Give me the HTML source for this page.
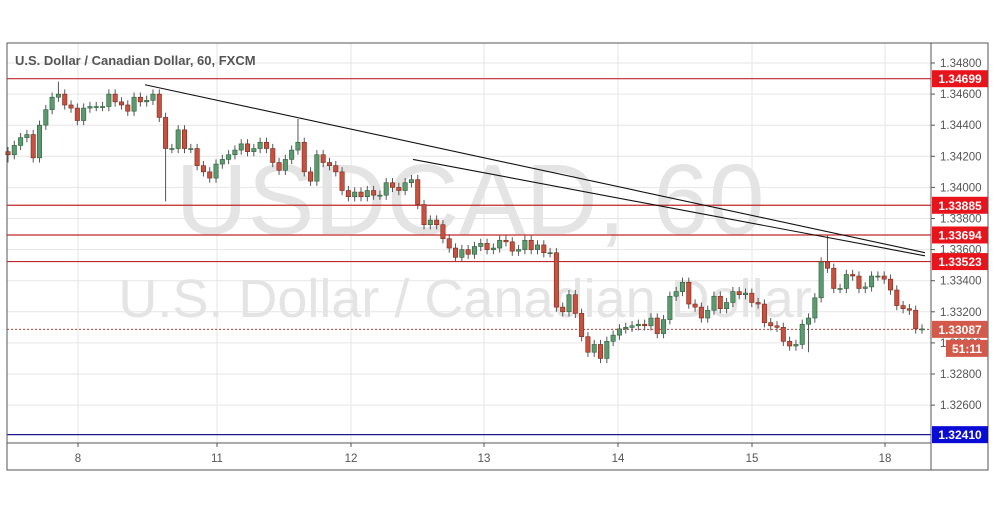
<!DOCTYPE html>
<html><head><meta charset="utf-8"><style>
html,body{margin:0;padding:0;background:#fff;}
svg{display:block;font-family:"Liberation Sans",sans-serif;}
</style></head><body>
<svg id="chart" width="995" height="507"></svg>
<script>
const title = "U.S. Dollar / Canadian Dollar, 60, FXCM";
const priceTicks = [1.348,1.346,1.344,1.342,1.340,1.338,1.336,1.334,1.332,1.330,1.328,1.326];
const dateLabels = ["8","11","12","13","14","15","18"];
const dateX = [78,217,351,484,618,752,885];
const hLevels = [1.34699,1.33885,1.33694,1.33523];
const supportLevel = 1.32410;
const lastPrice = 1.33087;
const countdown = "51:11";
const firstOpen = 1.3423;
const closes = [1.3421,1.3427,1.3432,1.3434,1.3419,1.3440,1.3450,1.3458,1.3460,1.3453,1.3451,1.3443,1.3451,1.3452,1.3452,1.3452,1.3460,1.3455,1.3453,1.3449,1.3458,1.3455,1.3456,1.3460,1.3445,1.3425,1.3425,1.3437,1.3425,1.3425,1.3414,1.3410,1.3406,1.3415,1.3418,1.3421,1.3424,1.3428,1.3423,1.3425,1.3429,1.3425,1.3416,1.3411,1.3418,1.3424,1.3429,1.3410,1.3404,1.3421,1.3416,1.3414,1.3410,1.3398,1.3394,1.3397,1.3394,1.3398,1.3395,1.3395,1.3403,1.3400,1.3398,1.3403,1.3405,1.3389,1.3376,1.3379,1.3376,1.3367,1.3361,1.3355,1.3360,1.3357,1.3362,1.3364,1.3360,1.3361,1.3366,1.3365,1.3359,1.3360,1.3366,1.3360,1.3363,1.3358,1.3358,1.3323,1.3320,1.3331,1.3319,1.3304,1.3294,1.3299,1.3290,1.3301,1.3305,1.3309,1.3310,1.3311,1.3312,1.3311,1.3316,1.3306,1.3315,1.3330,1.3333,1.3339,1.3325,1.3323,1.3316,1.3321,1.3330,1.3322,1.3326,1.3333,1.3331,1.3332,1.3326,1.3325,1.3313,1.3311,1.3310,1.3301,1.3298,1.3299,1.3312,1.3316,1.3329,1.3352,1.3348,1.3335,1.3335,1.3344,1.3343,1.3335,1.3336,1.3343,1.3343,1.3341,1.3334,1.3324,1.3322,1.3321,1.3309,1.3309];
const spikeIdx = [25,43,46,130,0,8,94,127];
const spikeHigh = [null,null,1.3444,1.3369,null,1.3468,null,null];
const spikeLow = [1.3391,1.3408,null,null,1.3416,null,1.3287,1.3294];
const trend1 = [[145,1.3466],[925,1.3358]];
const trend2 = [[413,1.3418],[925,1.3356]];

const NS="http://www.w3.org/2000/svg";
const svg=document.getElementById('chart');
const L=7,R=931,T=43,B=443;
const yOf=p=>63+(1.348-p)/0.002*31.1;
function el(tag,attrs,parent){const e=document.createElementNS(NS,tag);for(const k in attrs)e.setAttribute(k,attrs[k]);(parent||svg).appendChild(e);return e;}

priceTicks.forEach(p=>{const g=el('line',{x1:L,x2:R,y1:yOf(p),y2:yOf(p),stroke:'#e6e6e6'});

});
dateX.forEach(x=>{const g=el('line',{x1:x,x2:x,y1:T,y2:B,stroke:'#e6e6e6'});

});
const w1=el('text',{x:470,y:234,'font-size':100,fill:'#e4e4e4','text-anchor':'middle'});w1.textContent='USDCAD, 60';


const w2=el('text',{x:465,y:317,'font-size':54,fill:'#e4e4e4','text-anchor':'middle'});w2.textContent='U.S. Dollar / Canadian Dollar';



hLevels.forEach(p=>{const l=el('line',{x1:L,x2:R,y1:yOf(p),y2:yOf(p),stroke:'#c0272d','stroke-width':1.2});

});
const sl=el('line',{x1:L,x2:R,y1:yOf(supportLevel),y2:yOf(supportLevel),stroke:'#1a1a8c','stroke-width':1.2});


const lp=el('line',{x1:L,x2:R,y1:yOf(lastPrice),y2:yOf(lastPrice),stroke:'#c0392b','stroke-dasharray':'2,2'});



const n=closes.length,x0=8,x1=922,step=(x1-x0)/(n-1);
for(let i=0;i<n;i++){
  const o=i?closes[i-1]:firstOpen,c=closes[i];
  let hi=Math.max(o,c)+0.0003,lo=Math.min(o,c)-0.0003;
  const k=spikeIdx.indexOf(i);
  if(k>=0){if(spikeHigh[k]!==null)hi=spikeHigh[k];if(spikeLow[k]!==null)lo=spikeLow[k];}
  const x=x0+i*step,up=c>=o,col=up?'#5b9a6e':'#c8503e',stroke=up?'#2f5e3c':'#7a2a1f';
  const wk=el('line',{x1:x,x2:x,y1:yOf(hi),y2:yOf(lo),stroke:'#555'});
  
  
  const yt=yOf(Math.max(o,c)),yb=yOf(Math.min(o,c));
  const b=el('rect',{x:x-2.2,y:yt,width:4.4,height:Math.max(1,yb-yt),fill:col,stroke:stroke,'stroke-width':0.6});
  
  
}
[trend1,trend2].forEach(t=>{const l=el('line',{x1:t[0][0],y1:yOf(t[0][1]),x2:t[1][0],y2:yOf(t[1][1]),stroke:'#111','stroke-width':1.1});

});

const fr=el('rect',{x:L,y:T,width:988-L,height:470-T,fill:'none',stroke:'#555'});


const ay=el('line',{x1:R,x2:R,y1:T,y2:470,stroke:'#555'});


const ax=el('line',{x1:L,x2:R,y1:B,y2:B,stroke:'#555'});


priceTicks.forEach(p=>{const y=yOf(p);
  const tk=el('line',{x1:R,x2:R+4,y1:y,y2:y,stroke:'#555'});
  
  
  const t=el('text',{x:940,y:y+4,'font-size':11.5,fill:'#555'});t.textContent=p.toFixed(5);
  
  });
dateLabels.forEach((d,i)=>{
  const tk=el('line',{x1:dateX[i],x2:dateX[i],y1:B,y2:B+4,stroke:'#555'});
  
  
  const t=el('text',{x:dateX[i],y:462,'font-size':11.5,fill:'#555','text-anchor':'middle'});t.textContent=d;
  
  });
function box(p,fill,name,label,dy,xs){const y=yOf(p)+(dy||0);
  const r=el('rect',{x:xs||932,y:y-8.5,width:(988-(xs||932)),height:17,fill:fill});
  
  
  const t=el('text',{x:((xs||932)+988)/2,y:y+4.5,'font-size':12,'font-weight':'bold',fill:'#fff','text-anchor':'middle'});t.textContent=label;
  
  }
hLevels.forEach(p=>box(p,'#e8141b','level-price-label',p.toFixed(5)));
box(supportLevel,'#0b0bd6','support-price-label',supportLevel.toFixed(5));
box(lastPrice,'#d35a4a','last-price-label',lastPrice.toFixed(5));
box(lastPrice,'#d35a4a','countdown-label',countdown,19,946);
const tt=el('text',{x:15,y:65,'font-size':13,'font-weight':'bold',fill:'#555'});tt.textContent=title;


</script>
</body></html>
